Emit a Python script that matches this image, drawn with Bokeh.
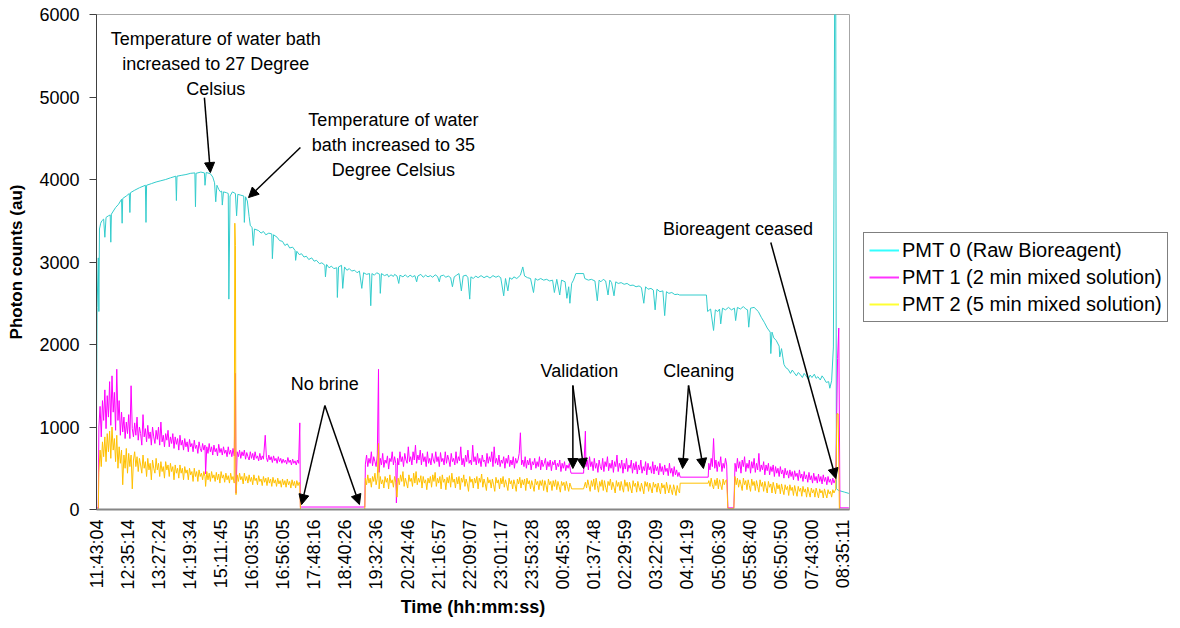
import math
from bokeh.plotting import figure
from bokeh.layouts import row
from bokeh.models import (Range1d, FixedTicker, Legend, LegendItem, Arrow,
                          NormalHead, ColumnDataSource)
from bokeh.core.properties import value
from bokeh.embed import file_html
from bokeh.resources import INLINE

# ---------------- data (time = minutes after 11:43:04, value = photon counts) -------------
x_tick_labels = ["11:43:04", "12:35:14", "13:27:24", "14:19:34", "15:11:45", "16:03:55",
                 "16:56:05", "17:48:16", "18:40:26", "19:32:36", "20:24:46", "21:16:57",
                 "22:09:07", "23:01:17", "23:53:28", "00:45:38", "01:37:48", "02:29:59",
                 "03:22:09", "04:14:19", "05:06:30", "05:58:40", "06:50:50", "07:43:00",
                 "08:35:11"]
y_ticks = [0, 1000, 2000, 3000, 4000, 5000, 6000]
series_names = ["PMT 0 (Raw Bioreagent)", "PMT 1 (2 min mixed solution)",
                "PMT 2 (5 min mixed solution)"]

pmt0_points = [
    (0, 1150), (1, 2450), (3, 3050), (4, 2400), (5, 3400), (7, 3470), (9, 3500), (12, 3520), (14, 3300), (16, 3540),
    (20, 3560), (23, 3570), (24, 3240), (25, 3580), (32, 3660), (37, 3700), (42, 3760), (43, 3470), (44, 3770), (50, 3800),
    (55, 3830), (56, 3600), (57, 3840), (64, 3870), (72, 3900), (82, 3930), (83, 3480), (84, 3930), (92, 3950), (100, 3970),
    (108, 3985), (116, 4000), (124, 4020), (133, 4040), (134, 3745), (135, 4040), (142, 4050), (150, 4060), (158, 4075), (165, 4080),
    (166, 3670), (167, 4075), (175, 4090), (181, 4080), (182, 3930), (184, 4085), (191, 4070), (195, 4030), (198, 3960), (200, 3730),
    (202, 3930), (205, 3880), (208, 3850), (210, 3860), (211, 3690), (213, 3850), (218, 3840), (221, 3830), (222, 2550), (224, 3800),
    (228, 3850), (233, 3830), (235, 3560), (237, 3820), (242, 3810), (247, 3800), (248, 3480), (250, 3790), (253, 3740), (256, 3550),
    (258, 3440), (261, 3420), (263, 3200), (265, 3400), (272, 3380), (276, 3350), (280, 3370), (284, 3330), (289, 3350), (294, 3340),
    (295, 3040), (297, 3330), (303, 3300), (307, 3260), (312, 3250), (316, 3200), (320, 3220), (324, 3170), (329, 3180), (333, 3140),
    (334, 3020), (336, 3130), (340, 3090), (344, 3100), (348, 3060), (352, 3070), (356, 3030), (361, 3050), (365, 3010), (369, 3020),
    (374, 2980), (378, 2990), (383, 2960), (384, 2820), (386, 2970), (390, 2930), (394, 2950), (398, 2920), (403, 2930), (404, 2570),
    (406, 2940), (411, 2960), (413, 2680), (416, 2940), (420, 2900), (424, 2920), (428, 2890), (433, 2900), (437, 2870), (441, 2890),
    (445, 2680), (448, 2870), (453, 2850), (458, 2860), (460, 2470), (462, 2860), (466, 2840), (470, 2870), (475, 2850), (476, 2620),
    (478, 2860), (483, 2835), (488, 2850), (490, 2820), (494, 2845), (498, 2825), (500, 2850), (504, 2830), (507, 2740), (509, 2840),
    (514, 2820), (518, 2845), (522, 2815), (526, 2840), (530, 2820), (534, 2835), (537, 2760), (539, 2830), (544, 2850), (548, 2815),
    (552, 2840), (556, 2820), (560, 2835), (564, 2815), (568, 2845), (572, 2825), (575, 2760), (577, 2830), (582, 2840), (586, 2815),
    (590, 2830), (594, 2810), (597, 2700), (600, 2820), (604, 2840), (608, 2860), (612, 2650), (615, 2830), (620, 2840), (623, 2810),
    (626, 2550), (628, 2820), (632, 2800), (636, 2830), (640, 2810), (645, 2835), (650, 2810), (655, 2830), (660, 2805), (665, 2835),
    (670, 2815), (674, 2830), (678, 2810), (683, 2590), (686, 2800), (690, 2650), (693, 2810), (697, 2790), (700, 2820), (705, 2800),
    (711, 2840), (715, 2940), (718, 2830), (723, 2810), (728, 2800), (733, 2630), (736, 2800), (740, 2780), (745, 2800), (750, 2780),
    (755, 2790), (760, 2770), (765, 2780), (768, 2630), (772, 2790), (777, 2600), (780, 2780), (786, 2760), (789, 2560), (792, 2700),
    (794, 2500), (797, 2740), (800, 2780), (804, 2860), (817, 2860), (819, 2800), (825, 2780), (830, 2790), (836, 2770), (840, 2530),
    (843, 2780), (846, 2760), (850, 2790), (854, 2770), (858, 2600), (861, 2780), (864, 2750), (868, 2590), (871, 2760), (875, 2740),
    (880, 2750), (885, 2730), (890, 2740), (895, 2715), (900, 2720), (905, 2700), (910, 2710), (914, 2690), (918, 2500), (921, 2700),
    (925, 2670), (930, 2680), (934, 2660), (937, 2420), (940, 2670), (945, 2640), (950, 2650), (953, 2350), (956, 2640), (960, 2620),
    (965, 2630), (970, 2605), (975, 2610), (978, 2600), (1023, 2600), (1025, 2400), (1030, 2430), (1035, 2170), (1038, 2420), (1042, 2400),
    (1045, 2430), (1047, 2250), (1050, 2440), (1055, 2420), (1060, 2450), (1065, 2420), (1070, 2440), (1072, 2290), (1075, 2450), (1080, 2430),
    (1085, 2460), (1089, 2430), (1092, 2420), (1094, 2210), (1097, 2440), (1103, 2450), (1110, 2400), (1115, 2330), (1120, 2270), (1125, 2200),
    (1130, 2150), (1131, 1890), (1133, 2150), (1136, 2080), (1140, 2050), (1145, 1980), (1146, 1850), (1149, 1950), (1153, 1760), (1156, 1720),
    (1160, 1700), (1164, 1650), (1167, 1690), (1170, 1660), (1174, 1620), (1177, 1660), (1180, 1640), (1184, 1600), (1187, 1650), (1190, 1620),
    (1194, 1580), (1197, 1630), (1200, 1600), (1204, 1640), (1207, 1590), (1210, 1610), (1214, 1570), (1217, 1620), (1220, 1590), (1224, 1540),
    (1228, 1550), (1230, 1470), (1233, 1560), (1236, 1970), (1238, 6000), (1240, 6000), (1241, 250), (1245, 230), (1255, 210), (1262, 195)]

pmt1_points = [
    (0, 20), (3, 20), (4, 1000), (6, 1250), (8, 880), (10, 1320), (12, 1080), (14, 1450), (16, 980), (18, 1380),
    (20, 1120), (22, 1550), (24, 1020), (26, 1620), (28, 1180), (30, 1420), (32, 960), (34, 1700), (36, 1080), (38, 1320),
    (40, 900), (42, 1180), (44, 940), (46, 1120), (48, 860), (50, 1060), (52, 920), (54, 1150), (56, 860), (58, 1500),
    (60, 980), (62, 880), (64, 1050), (66, 900), (68, 1120), (70, 840), (72, 1000), (74, 920), (76, 780), (78, 1150),
    (80, 880), (82, 980), (84, 820), (86, 1020), (88, 860), (90, 940), (92, 780), (94, 1000), (96, 880), (98, 800),
    (100, 960), (102, 850), (104, 1000), (106, 780), (108, 1060), (110, 820), (112, 900), (114, 760), (116, 920), (118, 840),
    (120, 960), (122, 760), (124, 880), (126, 800), (128, 920), (130, 740), (132, 880), (134, 790), (136, 860), (138, 720),
    (140, 900), (142, 780), (144, 840), (146, 720), (148, 860), (150, 760), (152, 820), (154, 700), (156, 850), (158, 760),
    (160, 800), (162, 700), (164, 840), (166, 740), (168, 780), (170, 680), (172, 820), (174, 740), (176, 700), (178, 800),
    (180, 720), (182, 780), (183, 430), (185, 760), (187, 680), (189, 800), (191, 700), (193, 760), (195, 660), (197, 780),
    (199, 700), (201, 740), (203, 650), (205, 790), (207, 690), (209, 740), (211, 660), (213, 760), (215, 680), (217, 720),
    (219, 640), (221, 760), (223, 670), (225, 720), (227, 640), (229, 740), (231, 650), (233, 1650), (234, 200), (236, 700),
    (238, 640), (240, 720), (242, 620), (244, 700), (246, 650), (248, 720), (250, 610), (252, 690), (254, 640), (256, 600),
    (258, 700), (260, 620), (262, 680), (264, 600), (266, 700), (268, 620), (270, 650), (272, 590), (274, 680), (276, 600),
    (278, 650), (280, 610), (283, 900), (285, 630), (287, 580), (289, 660), (291, 600), (293, 640), (295, 570), (297, 650),
    (299, 590), (301, 620), (303, 560), (305, 640), (307, 580), (309, 620), (311, 560), (313, 610), (315, 570), (317, 600),
    (319, 550), (321, 630), (323, 570), (325, 600), (327, 540), (329, 610), (331, 560), (333, 590), (335, 540), (337, 600),
    (339, 560), (341, 1050), (342, 30), (449, 30), (450, 30),
    (451, 550), (453, 660), (455, 520), (457, 620), (459, 560), (461, 700), (463, 530), (465, 640), (467, 580), (469, 520),
    (471, 660), (473, 1700), (474, 450), (476, 620), (478, 540), (480, 680), (482, 510), (484, 600), (486, 560), (488, 650),
    (490, 490), (492, 620), (494, 580), (496, 700), (498, 540), (500, 640), (502, 560), (503, 80), (505, 620), (507, 540),
    (509, 700), (511, 580), (513, 640), (515, 520), (517, 680), (519, 600), (521, 560), (523, 760), (525, 580), (527, 640),
    (529, 540), (531, 700), (533, 600), (535, 780), (537, 560), (539, 660), (541, 600), (543, 720), (545, 540), (547, 680),
    (549, 580), (551, 640), (553, 520), (555, 700), (557, 560), (559, 620), (561, 540), (563, 680), (565, 600), (567, 560),
    (569, 700), (571, 580), (573, 640), (575, 520), (577, 690), (579, 580), (581, 620), (583, 540), (585, 700), (587, 560),
    (589, 660), (591, 600), (593, 520), (595, 680), (597, 580), (599, 620), (601, 540), (603, 700), (605, 560), (607, 640),
    (609, 590), (611, 760), (613, 540), (615, 620), (617, 520), (619, 660), (621, 580), (623, 720), (625, 560), (627, 600),
    (629, 540), (631, 780), (633, 580), (635, 640), (637, 540), (639, 680), (641, 560), (643, 620), (645, 520), (647, 660),
    (649, 580), (651, 600), (653, 520), (655, 680), (657, 560), (659, 640), (661, 580), (663, 700), (665, 520), (667, 760),
    (669, 560), (671, 620), (673, 540), (675, 660), (677, 520), (679, 600), (681, 560), (683, 640), (685, 500), (687, 620),
    (689, 560), (691, 660), (693, 520), (695, 600), (697, 540), (699, 640), (701, 500), (703, 620), (705, 560), (707, 600),
    (709, 680), (711, 930), (713, 540), (715, 600), (717, 520), (719, 640), (721, 500), (723, 600), (725, 540), (727, 620),
    (729, 480), (731, 580), (733, 540), (735, 620), (737, 500), (739, 580), (741, 520), (743, 640), (745, 480), (747, 600),
    (749, 520), (751, 560), (753, 620), (755, 480), (757, 580), (759, 520), (761, 600), (763, 470), (765, 580), (767, 540),
    (769, 600), (771, 480), (773, 560), (775, 520), (777, 600), (779, 460), (781, 560), (783, 500), (785, 580), (787, 470),
    (789, 540), (791, 500), (793, 560), (795, 470), (796, 440), (817, 440), (820, 950),
    (821, 520), (823, 600), (825, 480), (827, 640), (829, 520), (831, 580), (833, 470), (835, 620), (837, 500), (839, 560),
    (841, 450), (843, 600), (845, 520), (847, 480), (849, 620), (851, 460), (853, 580), (855, 520), (857, 640), (859, 470),
    (861, 560), (863, 500), (865, 600), (867, 450), (869, 580), (871, 520), (873, 660), (875, 460), (877, 560), (879, 500),
    (881, 600), (883, 440), (885, 560), (887, 490), (889, 620), (891, 460), (893, 540), (895, 500), (897, 600), (899, 440),
    (901, 560), (903, 480), (905, 580), (907, 430), (909, 540), (911, 480), (913, 600), (915, 440), (917, 520), (919, 470),
    (921, 580), (923, 420), (925, 560), (927, 480), (929, 520), (931, 440), (933, 580), (935, 430), (937, 540), (939, 470),
    (941, 520), (943, 420), (945, 560), (947, 460), (949, 520), (951, 420), (953, 540), (955, 460), (957, 500), (959, 410),
    (961, 560), (963, 440), (965, 500), (967, 400), (969, 520), (971, 420), (973, 480), (975, 400), (977, 450), (979, 392),
    (1026, 392), (1027, 560), (1029, 480), (1031, 620), (1033, 520), (1035, 860), (1037, 500), (1039, 600), (1041, 460), (1043, 580),
    (1045, 520), (1047, 640), (1049, 460), (1051, 560), (1053, 500), (1055, 620), (1057, 540), (1059, 20), (1069, 20),
    (1071, 560), (1073, 460), (1075, 620), (1077, 500), (1079, 580), (1081, 440), (1083, 600), (1085, 520), (1087, 640), (1089, 460),
    (1091, 560), (1093, 500), (1095, 600), (1097, 440), (1099, 580), (1101, 500), (1103, 620), (1105, 450), (1107, 560), (1109, 480),
    (1111, 680), (1113, 460), (1115, 540), (1117, 480), (1119, 580), (1121, 420), (1123, 540), (1125, 470), (1127, 560), (1129, 420),
    (1131, 520), (1133, 460), (1135, 540), (1137, 400), (1139, 520), (1141, 440), (1143, 500), (1145, 400), (1147, 520), (1149, 430),
    (1151, 480), (1153, 380), (1155, 500), (1157, 420), (1159, 470), (1161, 380), (1163, 480), (1165, 400), (1167, 460), (1169, 360),
    (1171, 470), (1173, 400), (1175, 440), (1177, 350), (1179, 480), (1181, 380), (1183, 430), (1185, 340), (1187, 460), (1189, 370),
    (1191, 420), (1193, 330), (1195, 450), (1197, 360), (1199, 410), (1201, 320), (1203, 440), (1205, 350), (1207, 400), (1209, 320),
    (1211, 430), (1213, 340), (1215, 400), (1217, 310), (1219, 420), (1221, 340), (1223, 390), (1225, 300), (1227, 400), (1229, 330),
    (1231, 370), (1233, 300), (1235, 380), (1237, 320), (1240, 380), (1243, 1830), (1245, 2200), (1247, 20), (1262, 20)]

pmt2_points = [
    (0, 0), (3, 0), (4, 450), (6, 720), (8, 520), (10, 820), (12, 640), (14, 880), (16, 580), (18, 920),
    (20, 700), (22, 950), (24, 620), (26, 1000), (28, 720), (30, 860), (32, 580), (34, 900), (36, 500), (38, 760),
    (40, 560), (42, 720), (44, 300), (46, 660), (48, 500), (50, 740), (52, 440), (54, 680), (56, 520), (58, 660),
    (60, 250), (62, 600), (64, 700), (66, 520), (68, 640), (70, 460), (72, 620), (74, 540), (76, 440), (78, 660),
    (80, 500), (82, 580), (84, 400), (86, 620), (88, 480), (90, 560), (92, 360), (94, 600), (96, 500), (98, 440),
    (100, 620), (102, 480), (104, 560), (106, 400), (108, 580), (110, 460), (112, 520), (114, 380), (116, 580), (118, 480),
    (120, 540), (122, 400), (124, 560), (126, 460), (128, 520), (130, 360), (132, 540), (134, 440), (136, 500), (138, 380),
    (140, 540), (142, 440), (144, 500), (146, 360), (148, 520), (150, 440), (152, 480), (154, 360), (156, 500), (158, 420),
    (160, 460), (162, 340), (164, 500), (166, 400), (168, 460), (170, 340), (172, 480), (174, 400), (176, 440), (178, 360),
    (180, 460), (182, 400), (183, 280), (185, 460), (187, 360), (189, 440), (191, 340), (193, 460), (195, 380), (197, 420),
    (199, 340), (201, 450), (203, 360), (205, 430), (207, 320), (209, 460), (211, 380), (213, 420), (215, 330), (217, 440),
    (219, 360), (221, 410), (223, 320), (225, 440), (227, 360), (229, 400), (231, 320), (232, 3470), (233, 3200), (234, 180),
    (236, 420), (238, 340), (240, 440), (242, 360), (244, 400), (246, 310), (248, 440), (250, 350), (252, 400), (254, 320),
    (256, 420), (258, 340), (260, 390), (262, 300), (264, 420), (266, 350), (268, 380), (270, 300), (272, 410), (274, 340),
    (276, 370), (278, 290), (280, 400), (282, 330), (284, 380), (286, 290), (288, 390), (290, 320), (292, 370), (294, 280),
    (296, 390), (298, 320), (300, 360), (302, 280), (304, 380), (306, 310), (308, 350), (310, 270), (312, 370), (314, 300),
    (316, 350), (318, 270), (320, 370), (322, 300), (324, 340), (326, 260), (328, 360), (330, 290), (332, 340), (334, 260),
    (336, 350), (338, 290), (340, 330), (341, 300), (342, 0), (449, 0), (450, 0),
    (451, 380), (453, 300), (455, 420), (457, 320), (459, 380), (461, 270), (463, 400), (465, 340), (467, 440), (469, 300),
    (471, 380), (473, 800), (474, 250), (476, 400), (478, 310), (480, 360), (482, 260), (484, 400), (486, 330), (488, 380),
    (490, 250), (492, 420), (494, 320), (496, 360), (498, 270), (500, 400), (502, 330), (504, 150), (506, 380), (508, 300),
    (510, 420), (512, 340), (514, 460), (516, 280), (518, 380), (520, 320), (522, 260), (524, 420), (526, 340), (528, 380),
    (530, 280), (532, 440), (534, 320), (536, 460), (538, 300), (540, 380), (542, 330), (544, 410), (546, 260), (548, 400),
    (550, 320), (552, 360), (554, 240), (556, 380), (558, 320), (560, 400), (562, 270), (564, 420), (566, 340), (568, 450),
    (570, 280), (572, 380), (574, 320), (576, 400), (578, 250), (580, 420), (582, 330), (584, 370), (586, 240), (588, 390),
    (590, 320), (592, 410), (594, 270), (596, 440), (598, 330), (600, 370), (602, 260), (604, 390), (606, 310), (608, 400),
    (610, 240), (612, 380), (614, 330), (616, 420), (618, 280), (620, 370), (622, 310), (624, 220), (626, 400), (628, 330),
    (630, 370), (632, 260), (634, 380), (636, 320), (638, 400), (640, 250), (642, 380), (644, 330), (646, 430), (648, 270),
    (650, 370), (652, 310), (654, 230), (656, 390), (658, 320), (660, 360), (662, 260), (664, 370), (666, 300), (668, 220),
    (670, 390), (672, 320), (674, 360), (676, 250), (678, 380), (680, 310), (682, 400), (684, 270), (686, 360), (688, 300),
    (690, 230), (692, 380), (694, 310), (696, 350), (698, 250), (700, 360), (702, 300), (704, 220), (706, 370), (708, 310),
    (710, 390), (712, 260), (714, 360), (716, 300), (718, 370), (720, 230), (722, 380), (724, 310), (726, 350), (728, 250),
    (730, 350), (732, 290), (734, 220), (736, 370), (738, 300), (740, 340), (742, 240), (744, 350), (746, 290), (748, 360),
    (750, 230), (752, 350), (754, 290), (756, 210), (758, 370), (760, 300), (762, 340), (764, 230), (766, 350), (768, 280),
    (770, 360), (772, 240), (774, 340), (776, 280), (778, 210), (780, 340), (782, 290), (784, 330), (786, 230), (788, 340),
    (790, 280), (792, 220), (794, 320), (795, 300), (797, 250), (817, 250),
    (820, 330), (822, 260), (824, 360), (826, 290), (828, 220), (830, 350), (832, 280), (834, 370), (836, 240), (838, 380),
    (840, 290), (842, 210), (844, 340), (846, 280), (848, 360), (850, 230), (852, 350), (854, 270), (856, 210), (858, 340),
    (860, 290), (862, 370), (864, 240), (866, 330), (868, 270), (870, 200), (872, 350), (874, 280), (876, 330), (878, 230),
    (880, 340), (882, 270), (884, 210), (886, 360), (888, 280), (890, 330), (892, 220), (894, 330), (896, 260), (898, 200),
    (900, 350), (902, 280), (904, 320), (906, 210), (908, 340), (910, 270), (912, 220), (914, 320), (916, 260), (918, 190),
    (920, 340), (922, 280), (924, 330), (926, 220), (928, 320), (930, 260), (932, 200), (934, 330), (936, 270), (938, 310),
    (940, 210), (942, 320), (944, 250), (946, 190), (948, 320), (950, 260), (952, 300), (954, 190), (956, 330), (958, 260),
    (960, 200), (962, 300), (964, 240), (966, 180), (968, 300), (970, 240), (972, 170), (974, 290), (976, 230), (978, 200),
    (979, 319), (1026, 319), (1027, 350), (1029, 280), (1031, 380), (1033, 300), (1035, 250), (1037, 360), (1039, 290), (1041, 380),
    (1043, 250), (1045, 360), (1047, 300), (1049, 240), (1051, 370), (1053, 300), (1055, 350), (1057, 360), (1059, 10), (1069, 10),
    (1071, 400), (1073, 300), (1075, 380), (1077, 270), (1079, 360), (1081, 300), (1083, 230), (1085, 380), (1087, 300), (1089, 350),
    (1091, 240), (1093, 360), (1095, 290), (1097, 220), (1099, 370), (1101, 290), (1103, 340), (1105, 230), (1107, 350), (1109, 280),
    (1111, 210), (1113, 360), (1115, 280), (1117, 330), (1119, 220), (1121, 340), (1123, 270), (1125, 200), (1127, 340), (1129, 270),
    (1131, 310), (1133, 200), (1135, 330), (1137, 260), (1139, 190), (1141, 320), (1143, 250), (1145, 300), (1147, 190), (1149, 310),
    (1151, 240), (1153, 180), (1155, 300), (1157, 240), (1159, 280), (1161, 170), (1163, 300), (1165, 230), (1167, 270), (1169, 170),
    (1171, 290), (1173, 220), (1175, 160), (1177, 280), (1179, 220), (1181, 260), (1183, 160), (1185, 280), (1187, 210), (1189, 250),
    (1191, 150), (1193, 270), (1195, 210), (1197, 150), (1199, 260), (1201, 200), (1203, 240), (1205, 150), (1207, 260), (1209, 200),
    (1211, 140), (1213, 250), (1215, 200), (1217, 230), (1219, 140), (1221, 250), (1223, 190), (1225, 140), (1227, 240), (1229, 190),
    (1231, 220), (1233, 150), (1235, 240), (1237, 200), (1240, 250), (1242, 1160), (1244, 1160), (1246, 0), (1262, 0)]

# annotations: (text, minute, counts)
notes = [
    ("Temperature of water bath\nincreased to 27 Degree\nCelsius", 200, 5400),
    ("Temperature of water\nbath increased to 35\nDegree Celsius", 498, 4420),
    ("No brine", 383, 1527),
    ("Validation", 810, 1673),
    ("Cleaning", 1010, 1673),
    ("Bioreagent ceased", 1076, 3394),
]
# arrows: (minute_start, counts_start, minute_end, counts_end)
arrows = [
    (181, 4993, 191, 4084),
    (342, 4387, 255, 3781),
    (383, 1260, 344, 60), (383, 1260, 441, 60),
    (799, 1503, 799, 497), (799, 1503, 817, 497),
    (993, 1503, 983, 497), (993, 1503, 1018, 497),
    (1131, 3236, 1240, 376),
]

# ---------------- helpers ----------------
def hms(s):
    h, m, sec = (int(v) for v in s.split(":"))
    return h * 3600 + m * 60 + sec

t0 = hms(x_tick_labels[0])
tick_pos = []
for lab in x_tick_labels:
    d = hms(lab) - t0
    if d < 0:
        d += 86400
    tick_pos.append(d)

def src(points):
    return ColumnDataSource(dict(x=[m * 60 for m, _ in points], y=[v for _, v in points]))

FONT = "Liberation Sans"
MAIN_W = 862

p = figure(width=MAIN_W, height=628, output_backend="svg", toolbar_location=None,
           x_range=Range1d(0, 1263 * 60), y_range=Range1d(0, 6000),
           min_border_left=96, min_border_right=MAIN_W - 849, min_border_top=14, min_border_bottom=119)
p.background_fill_color = "white"
p.border_fill_color = "white"
p.outline_line_color = "#A6A6A6"
p.outline_line_width = 1
p.xgrid.visible = False
p.ygrid.visible = False

p.line("x", "y", source=src(pmt0_points), line_color="#33CCCC", line_width=1)
p.line("x", "y", source=src(pmt1_points), line_color="#FF00FF", line_width=1)
p.line("x", "y", source=src(pmt2_points), line_color="#FFC000", line_width=1)

# annotations
p.text(x=[n[1] * 60 for n in notes], y=[n[2] for n in notes], text=[n[0] for n in notes],
       text_font=value(FONT), text_font_size="18px", text_color="#000000",
       text_align="center", text_baseline="middle", text_line_height=1.25)
for xs, ys, xe, ye in arrows:
    p.add_layout(Arrow(end=NormalHead(size=10, fill_color="black", line_color="black"),
                       x_start=xs * 60, y_start=ys, x_end=xe * 60, y_end=ye,
                       line_color="black", line_width=1.5))

# axes
p.yaxis.ticker = FixedTicker(ticks=y_ticks)
p.yaxis.axis_label = "Photon counts (au)"
p.yaxis.axis_label_text_font = FONT
p.yaxis.axis_label_text_font_style = "bold"
p.yaxis.axis_label_text_font_size = "17px"
p.yaxis.axis_label_text_color = "#000000"
p.yaxis.axis_label_standoff = 10
p.yaxis.major_label_text_font = FONT
p.yaxis.major_label_text_font_size = "18px"
p.yaxis.major_label_text_color = "#000000"
p.yaxis.major_label_standoff = 10
p.yaxis.major_tick_out = 7
p.yaxis.major_tick_in = 0
p.yaxis.minor_tick_out = 0
p.yaxis.minor_tick_in = 0
p.yaxis.axis_line_color = "#404040"
p.yaxis.major_tick_line_color = "#404040"

p.xaxis.ticker = FixedTicker(ticks=tick_pos)
p.xaxis.major_label_overrides = {pos: lab for pos, lab in zip(tick_pos, x_tick_labels)}
p.xaxis.major_label_orientation = math.pi / 2
p.xaxis.axis_label = "Time (hh:mm:ss)"
p.xaxis.axis_label_text_font = FONT
p.xaxis.axis_label_text_font_style = "bold"
p.xaxis.axis_label_text_font_size = "18px"
p.xaxis.axis_label_text_color = "#000000"
p.xaxis.axis_label_standoff = 4
p.xaxis.major_label_text_font = FONT
p.xaxis.major_label_text_font_size = "18px"
p.xaxis.major_label_text_color = "#000000"
p.xaxis.major_label_standoff = 10
p.xaxis.major_tick_out = 0
p.xaxis.major_tick_in = 0
p.xaxis.minor_tick_out = 0
p.xaxis.minor_tick_in = 0
p.xaxis.axis_line_color = "#868686"
p.xaxis.axis_line_width = 2

# ---------------- legend panel (separate canvas to the right) ----------------
LEG_W = 1180 - MAIN_W
q = figure(width=LEG_W, height=628, output_backend="svg", toolbar_location=None,
           x_range=Range1d(0, 1), y_range=Range1d(0, 1),
           min_border_left=0, min_border_right=0, min_border_top=0, min_border_bottom=0)
q.axis.visible = False
q.grid.visible = False
q.outline_line_color = None
q.background_fill_color = "white"
q.border_fill_color = "white"
nan = float("nan")
sw0 = q.line(x=[nan], y=[nan], line_color="#33FFFF", line_width=2)
sw1 = q.line(x=[nan], y=[nan], line_color="#FF33FF", line_width=2)
sw2 = q.line(x=[nan], y=[nan], line_color="#FFFF33", line_width=2)

legend = Legend(items=[LegendItem(label=series_names[0], renderers=[sw0]),
                       LegendItem(label=series_names[1], renderers=[sw1]),
                       LegendItem(label=series_names[2], renderers=[sw2])],
                location=(863 - MAIN_W, 509 - 322), label_text_font=FONT, label_text_font_size="20px",
                label_text_color="#000000",
                glyph_width=30, glyph_height=24, label_height=24, spacing=3,
                padding=5, margin=0, label_standoff=3,
                border_line_color="black", border_line_width=1,
                background_fill_color="white", background_fill_alpha=1.0)
q.add_layout(legend)

open("out.html", "w").write(file_html(row(p, q), INLINE))
